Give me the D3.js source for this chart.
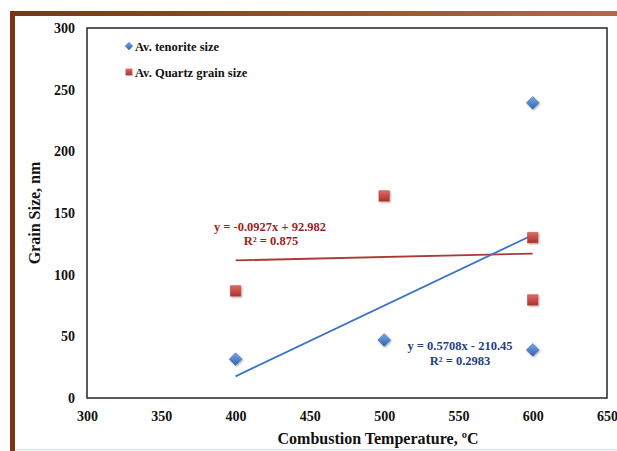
<!DOCTYPE html>
<html>
<head>
<meta charset="utf-8">
<script src="https://cdn.jsdelivr.net/npm/d3@7"></script>
<style>
  html, body { margin: 0; padding: 0; background: #fff; }
  svg { display: block; }
  text { font-family: "Liberation Serif", "Times New Roman", serif; font-weight: bold; }
</style>
</head>
<body>
<svg id="chart" width="617" height="451"></svg>
<script>
// Combustion temperature (°C) for each sample
const tenoriteTemp = [400, 500, 600, 600];
const tenoriteSize = [31.5, 47, 239.3, 39];      // nm
const quartzTemp   = [400, 500, 600, 600];
const quartzSize   = [86.8, 163.8, 130, 79.5];   // nm

const xTicks = [300, 350, 400, 450, 500, 550, 600, 650];
const yTicks = [0, 50, 100, 150, 200, 250, 300];

const seriesNames = ["Av. tenorite size", "Av. Quartz grain size"];
const tenoriteEq = ["y = 0.5708x - 210.45", "R² = 0.2983"];
const quartzEq   = ["y = -0.0927x + 92.982", "R² = 0.875"];

const svg = d3.select("#chart");
const W = 617, H = 451;
const plot = { left: 87, right: 607, top: 28, bottom: 398 };

const x = d3.scaleLinear().domain([300, 650]).range([plot.left, plot.right]);
const y = d3.scaleLinear().domain([0, 300]).range([plot.bottom, plot.top]);

const defs = svg.append("defs");
const frameGrad = defs.append("linearGradient").attr("id", "frameGrad");
frameGrad.append("stop").attr("offset", "0%").attr("stop-color", "#7a3614");
frameGrad.append("stop").attr("offset", "100%").attr("stop-color", "#b8693a");

const blueGrad = defs.append("linearGradient").attr("id", "blueGrad")
  .attr("x1", "0").attr("y1", "0").attr("x2", "0").attr("y2", "1");
blueGrad.append("stop").attr("offset", "0%").attr("stop-color", "#7aa8e6");
blueGrad.append("stop").attr("offset", "100%").attr("stop-color", "#2f63ad");

const redGrad = defs.append("linearGradient").attr("id", "redGrad")
  .attr("x1", "0").attr("y1", "0").attr("x2", "0").attr("y2", "1");
redGrad.append("stop").attr("offset", "0%").attr("stop-color", "#e06a66");
redGrad.append("stop").attr("offset", "100%").attr("stop-color", "#a8302c");

const shadow = defs.append("filter").attr("id", "shadow")
  .attr("x", "-30%").attr("y", "-30%").attr("width", "170%").attr("height", "170%");
shadow.append("feDropShadow").attr("dx", 1).attr("dy", 1).attr("stdDeviation", 0.8)
  .attr("flood-color", "#000").attr("flood-opacity", 0.35);

// page frame
svg.append("rect").attr("x", 10).attr("y", 11).attr("width", W - 10).attr("height", 5)
  .attr("fill", "url(#frameGrad)");
svg.append("rect").attr("x", 10).attr("y", 11).attr("width", 5).attr("height", H - 11)
  .attr("fill", "#7a3614");
svg.append("line").attr("x1", 15).attr("x2", W).attr("y1", 449.5).attr("y2", 449.5)
  .attr("stroke", "#dde7ec").attr("stroke-width", 1.5);

// plot border
svg.append("rect")
  .attr("x", plot.left).attr("y", plot.top)
  .attr("width", plot.right - plot.left).attr("height", plot.bottom - plot.top)
  .attr("fill", "none").attr("stroke", "#333").attr("stroke-width", 1.6);

// axes
const xAxis = svg.append("g")
  .attr("transform", `translate(0,${plot.bottom})`)
  .call(d3.axisBottom(x).tickValues(xTicks).tickSize(0).tickPadding(13));
xAxis.select(".domain").remove();
xAxis.selectAll("text").attr("font-size", 14).attr("fill", "#111")
  .attr("font-family", "Liberation Serif, serif").attr("font-weight", "bold");

const yAxis = svg.append("g")
  .attr("transform", `translate(${plot.left},0)`)
  .call(d3.axisLeft(y).tickValues(yTicks).tickSize(0).tickPadding(12));
yAxis.select(".domain").remove();
yAxis.selectAll("text").attr("font-size", 14).attr("fill", "#111")
  .attr("font-family", "Liberation Serif, serif").attr("font-weight", "bold");

// axis titles
svg.append("text")
  .attr("x", 378).attr("y", 444).attr("text-anchor", "middle")
  .attr("font-size", 16).attr("fill", "#111")
  .text("Combustion Temperature, ºC");

svg.append("text")
  .attr("transform", `translate(40,${(plot.top + plot.bottom) / 2}) rotate(-90)`)
  .attr("text-anchor", "middle")
  .attr("font-size", 16).attr("fill", "#111")
  .text("Grain Size, nm");

// least-squares fit
function fit(xs, ys) {
  const mx = d3.mean(xs), my = d3.mean(ys);
  let sxy = 0, sxx = 0;
  xs.forEach((v, i) => { sxy += (v - mx) * (ys[i] - my); sxx += (v - mx) ** 2; });
  const m = sxy / sxx;
  return { m, b: my - m * mx, x0: d3.min(xs), x1: d3.max(xs) };
}

const line = d3.line().x(d => x(d[0])).y(d => y(d[1]));
function drawTrend(xs, ys, color) {
  const f = fit(xs, ys);
  svg.append("path")
    .attr("d", line([[f.x0, f.m * f.x0 + f.b], [f.x1, f.m * f.x1 + f.b]]))
    .attr("stroke", color).attr("stroke-width", 1.8).attr("fill", "none");
}

drawTrend(quartzTemp, quartzSize, "#a93a36");
drawTrend(tenoriteTemp, tenoriteSize, "#3b74c4");

// markers
const diamond = d3.symbol().type(d3.symbolDiamond2).size(105);
const square = d3.symbol().type(d3.symbolSquare2).size(140);

svg.append("g").selectAll("path")
  .data(quartzTemp.map((t, i) => [t, quartzSize[i]]))
  .join("path")
  .attr("transform", d => `translate(${x(d[0])},${y(d[1])})`)
  .attr("d", square)
  .attr("fill", "url(#redGrad)").attr("stroke", "#b8413c").attr("stroke-width", 0.5)
  .attr("filter", "url(#shadow)");

svg.append("g").selectAll("path")
  .data(tenoriteTemp.map((t, i) => [t, tenoriteSize[i]]))
  .join("path")
  .attr("transform", d => `translate(${x(d[0])},${y(d[1])})`)
  .attr("d", diamond)
  .attr("fill", "url(#blueGrad)").attr("stroke", "#3d6fb5").attr("stroke-width", 0.5)
  .attr("filter", "url(#shadow)");

// trend equations
const eqRed = svg.append("text").attr("text-anchor", "middle").attr("font-size", 12.5).attr("fill", "#a01c1c");
eqRed.append("tspan").attr("x", 270).attr("y", 231).text(quartzEq[0]);
eqRed.append("tspan").attr("x", 271).attr("y", 245).text(quartzEq[1]);

const eqBlue = svg.append("text").attr("text-anchor", "middle").attr("font-size", 12.5).attr("fill", "#1f3f80");
eqBlue.append("tspan").attr("x", 460).attr("y", 350).text(tenoriteEq[0]);
eqBlue.append("tspan").attr("x", 460).attr("y", 365).text(tenoriteEq[1]);

// legend
const legend = svg.append("g");
legend.append("path").attr("transform", "translate(129,46)")
  .attr("d", d3.symbol().type(d3.symbolDiamond2).size(45))
  .attr("fill", "url(#blueGrad)");
legend.append("text").attr("x", 135).attr("y", 51).attr("font-size", 12.5).attr("fill", "#111")
  .text(seriesNames[0]);
legend.append("path").attr("transform", "translate(129,72)")
  .attr("d", d3.symbol().type(d3.symbolSquare2).size(60))
  .attr("fill", "url(#redGrad)");
legend.append("text").attr("x", 135).attr("y", 77).attr("font-size", 12.5).attr("fill", "#111")
  .text(seriesNames[1]);
</script>
</body>
</html>
